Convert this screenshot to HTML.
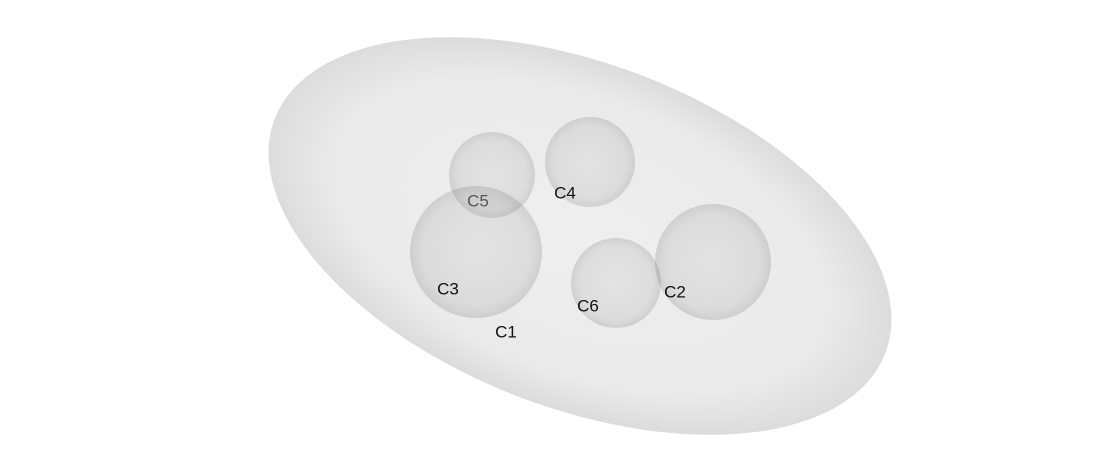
<!DOCTYPE html>
<html><head><meta charset="utf-8"><style>
html,body{margin:0;padding:0;background:#fff;width:1120px;height:473px;overflow:hidden;}
svg{display:block;}
text{font-family:"Liberation Sans",sans-serif;font-size:17px;}
</style></head><body>
<svg width="1120" height="473" viewBox="0 0 1120 473">
<defs>
<radialGradient id="eg" cx="0.5" cy="0.5" r="0.5">
<stop offset="0" stop-color="#efefef"/><stop offset="0.8" stop-color="#eaeaea"/><stop offset="1" stop-color="#dcdcdc"/>
</radialGradient>
<radialGradient id="sg" cx="0.5" cy="0.5" r="0.5">
<stop offset="0" stop-color="#888" stop-opacity="0.10"/><stop offset="0.8" stop-color="#777" stop-opacity="0.14"/><stop offset="1" stop-color="#666" stop-opacity="0.22"/>
</radialGradient>
</defs>
<ellipse cx="580" cy="236" rx="327" ry="172" transform="rotate(21 580 236)" fill="url(#eg)"/>
<g id="spheres"></g>
<g id="labels"></g>
</svg>
<script>
const names=["C5","C4","C3","C6","C2"];
const cx=[492,590,476,616,713];
const cy=[175,162,252,283,262];
const rad=[43,45,66,45,58];
const labelNames=["C5","C4","C3","C6","C2","C1"];
const lx=[478,565,448,588,675,506];
const ly=[202,194,290,307,293,333];
const ns="http://www.w3.org/2000/svg";
const sg=document.getElementById('spheres');
names.forEach((n,i)=>{
const c=document.createElementNS(ns,'circle');
c.setAttribute('cx',cx[i]);c.setAttribute('cy',cy[i]);c.setAttribute('r',rad[i]);
c.setAttribute('fill','url(#sg)');


sg.appendChild(c);
});
const lg=document.getElementById('labels');
labelNames.forEach((n,i)=>{
const t=document.createElementNS(ns,'text');
t.setAttribute('x',lx[i]);t.setAttribute('y',ly[i]);
t.setAttribute('text-anchor','middle');t.setAttribute('dominant-baseline','middle');
t.setAttribute('fill',n==='C5'?'#555':'#111');
t.textContent=n;


lg.appendChild(t);
});
</script>
</body></html>
